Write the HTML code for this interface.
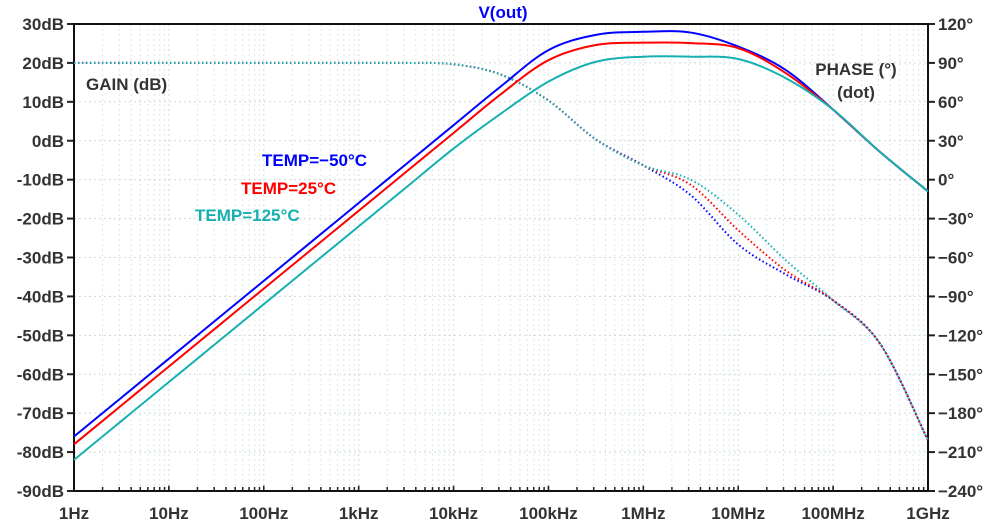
<!DOCTYPE html>
<html><head><meta charset="utf-8"><style>
html,body{margin:0;padding:0;background:#fff}
svg{display:block;font-family:"Liberation Sans",sans-serif;font-weight:bold}
</style></head><body>
<svg id="c" width="1000" height="527" viewBox="0 0 1000 527"></svg>
<script>
const logF=[0,0.5,1,1.5,2,2.5,3,3.5,4,4.5,5,5.5,6,6.5,7,7.5,8,8.5,9];
const gainM50=[-76,-66,-56,-46,-36,-26,-16,-6,4,14,23.3,27.2,28,27.8,24.2,18.2,8,-3,-13];
const gain25=[-78,-68,-58,-48,-38,-28,-18,-8,2,12,20.7,24.6,25.2,25.1,23.8,17.4,8,-3,-13];
const gain125=[-82,-72,-62,-52,-42,-32,-22,-12,-2,7,15.2,20.3,21.6,21.6,21,16.1,8,-3,-13];
const phM50=[90,90,90,90,90,90,90,90,89,81,61,31,11,-12,-50,-73,-93,-127,-201];
const ph25=[90,90,90,90,90,90,90,90,89,81,61,31,11,-4,-39,-70,-93,-127,-201];
const ph125=[90,90,90,90,90,90,90,90,89,81,61,31,11,0,-27,-62,-93,-127,-201];
const dbTicks=[30,20,10,0,-10,-20,-30,-40,-50,-60,-70,-80,-90];
const degTicks=[120,90,60,30,0,-30,-60,-90,-120,-150,-180,-210,-240];
const xLabels=["1Hz","10Hz","100Hz","1kHz","10kHz","100kHz","1MHz","10MHz","100MHz","1GHz"];

const L=74,R=928,T=24,B=491;
const X=v=>L+(R-L)*v/9;
const Y=db=>T+(30-db)/120*(B-T);
const YP=d=>T+(120-d)/360*(B-T);
const svg=document.getElementById('c');
const NS='http://www.w3.org/2000/svg';
function mk(tag,at,parent){const e=document.createElementNS(NS,tag);for(const k in at)e.setAttribute(k,at[k]);(parent||svg).appendChild(e);return e;}

const grid=mk('g',{});


for(let d=0;d<9;d++)for(let m=1;m<=10;m++){
  const x=X(d+Math.log10(m)); if(m==1&&d==0)continue;
  const ln=mk('line',{x1:x,x2:x,y1:T,y2:B,stroke:m==10?'#c8c8c8':'#d8e8e8','stroke-width':1,'stroke-dasharray':'2,3'},grid);
  
  
  const tk=mk('line',{x1:x,x2:x,y1:B,y2:B-(m==10?6:4),stroke:'#222','stroke-width':1.5},grid);
  
  
}
dbTicks.forEach(v=>{
  const y=Y(v);
  const ln=mk('line',{x1:L,x2:R,y1:y,y2:y,stroke:'#d0d8d8','stroke-width':1,'stroke-dasharray':'2,3'},grid);
  
  
  const t1=mk('line',{x1:L-7,x2:L,y1:y,y2:y,stroke:'#222','stroke-width':2});
  
  
  const t2=mk('line',{x1:R,x2:R+7,y1:y,y2:y,stroke:'#222','stroke-width':2});
  
  
  const tx=mk('text',{x:L-10,y:y+6,'text-anchor':'end','font-size':17,fill:'#333'});
  tx.textContent=v+'dB';
  
  
});
degTicks.forEach(v=>{
  const tx=mk('text',{x:R+10,y:YP(v)+6,'font-size':17,fill:'#333'});
  tx.textContent=(v<0?'\u2212'+(-v):v)+'\u00B0';
  
  
});
xLabels.forEach((s,i)=>{
  const tx=mk('text',{x:X(i),y:B+28,'text-anchor':'middle','font-size':17,fill:'#333'});
  tx.textContent=s;
  
  
});
const frame=mk('rect',{x:L,y:T,width:R-L,height:B-T,fill:'none',stroke:'#111','stroke-width':2});



function path(xs,ys){
  const p=xs.map((v,i)=>[v,ys[i]]);
  let d='M'+p[0][0]+','+p[0][1];
  for(let i=0;i<p.length-1;i++){
    const p0=p[Math.max(0,i-1)],p1=p[i],p2=p[i+1],p3=p[Math.min(p.length-1,i+2)];
    d+=' C'+(p1[0]+(p2[0]-p0[0])/6)+','+(p1[1]+(p2[1]-p0[1])/6)+' '+(p2[0]-(p3[0]-p1[0])/6)+','+(p2[1]-(p3[1]-p1[1])/6)+' '+p2[0]+','+p2[1];
  }
  return d;
}
const series=[['m50','#0000ff',gainM50,phM50],['25','#ff0000',gain25,ph25],['125','#17b0b0',gain125,ph125]];
series.forEach(([n,c,g,p])=>{
  const xs=logF.map(X);
  const pe=mk('path',{d:path(xs,p.map(YP)),fill:'none',stroke:c,'stroke-width':2,'stroke-dasharray':'1.5,2.5'});
  
  
});
series.forEach(([n,c,g,p])=>{
  const xs=logF.map(X);
  const ge=mk('path',{d:path(xs,g.map(Y)),fill:'none',stroke:c,'stroke-width':2});
  
  
});
function txt(s,x,y,c,name,anchor){
  const t=mk('text',{x:x,y:y,'font-size':17,fill:c,'text-anchor':anchor||'start'});
  t.textContent=s;
  
  
}
txt('V(out)',503,18,'#0000ff','chart-title','middle');
txt('GAIN (dB)',86,90,'#333','gain-axis-label');
txt('PHASE (\u00B0)',856,75,'#333','phase-axis-label','middle');
txt('(dot)',856,98,'#333','phase-dot-note','middle');
txt('TEMP=\u221250\u00B0C',262,166,'#0000ff','legend-temp-m50');
txt('TEMP=25\u00B0C',241,194,'#ff0000','legend-temp-25');
txt('TEMP=125\u00B0C',195,221,'#17b0b0','legend-temp-125');
</script>
</body></html>
